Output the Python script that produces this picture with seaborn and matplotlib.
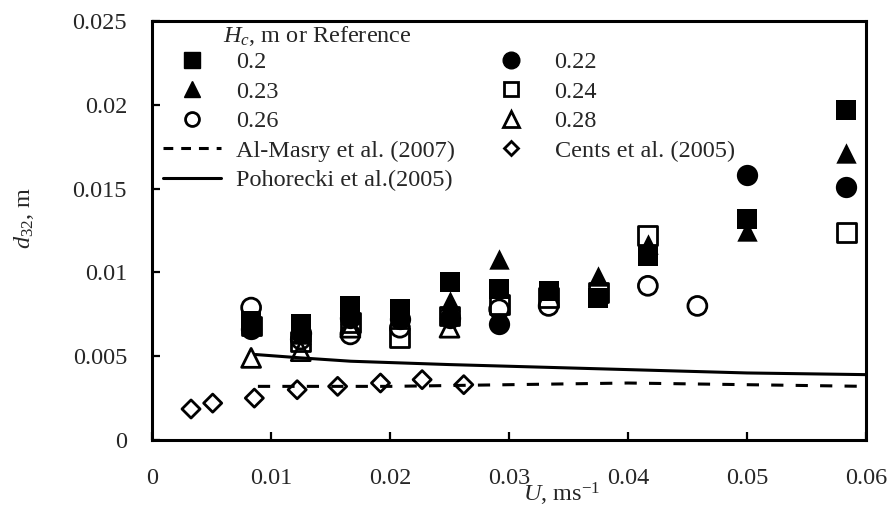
import matplotlib
matplotlib.use("Agg")
import matplotlib.pyplot as plt
import seaborn as sns
from matplotlib.lines import Line2D
from matplotlib.ticker import FuncFormatter, MultipleLocator

# ---- data ----
U_02 = [0.00833, 0.0125, 0.01667, 0.02083, 0.025, 0.02917, 0.03333, 0.0375, 0.04167, 0.05, 0.05833]
d_02 = [0.0071, 0.0069, 0.0080, 0.0078, 0.0094, 0.0090, 0.0089, 0.0085, 0.0110, 0.0132, 0.0197]
U_022 = [0.00833, 0.0125, 0.01667, 0.02083, 0.025, 0.02917, 0.05, 0.05833]
d_022 = [0.0066, 0.0064, 0.0073, 0.0072, 0.0073, 0.0069, 0.0158, 0.0151]
U_023 = [0.00833, 0.0125, 0.01667, 0.02083, 0.025, 0.02917, 0.0375, 0.04167, 0.05, 0.05833]
d_023 = [0.0070, 0.0063, 0.0075, 0.0074, 0.0083, 0.0108, 0.0098, 0.0117, 0.0125, 0.0171]
U_024 = [0.00833, 0.0125, 0.01667, 0.02083, 0.025, 0.02917, 0.03333, 0.0375, 0.04167, 0.05833]
d_024 = [0.0068, 0.0059, 0.0070, 0.0061, 0.0074, 0.0081, 0.0085, 0.0088, 0.0122, 0.0124]
U_026 = [0.00833, 0.0125, 0.01667, 0.02083, 0.02917, 0.03333, 0.04167, 0.04583]
d_026 = [0.0079, 0.0060, 0.0063, 0.0067, 0.0078, 0.0080, 0.0092, 0.0080]
U_028 = [0.00833, 0.0125, 0.01667, 0.025]
d_028 = [0.0049, 0.0053, 0.0067, 0.0067]

U_cents = [0.00328, 0.0051, 0.0086, 0.0122, 0.0156, 0.0192, 0.0227, 0.0262]
d_cents = [0.00185, 0.0022, 0.0025, 0.0030, 0.0032, 0.0034, 0.0036, 0.0033]

U_masry = [0.0089, 0.02, 0.03, 0.04, 0.05, 0.06]
d_masry = [0.0032, 0.0032, 0.0033, 0.0034, 0.0033, 0.0032]

U_poho = [0.0087, 0.0125, 0.0167, 0.025, 0.03, 0.04, 0.05, 0.06]
d_poho = [0.0051, 0.0049, 0.0047, 0.0045, 0.0044, 0.0042, 0.0040, 0.0039]

legend_labels = ["0.2", "0.23", "0.26", "Al-Masry et al. (2007)", "Pohorecki et al.(2005)",
                 "0.22", "0.24", "0.28", "Cents et al. (2005)"]

# ---- style ----
sns.set_style("ticks")
plt.rcParams["font.family"] = ["Liberation Serif", "DejaVu Serif"]
plt.rcParams["mathtext.fontset"] = "custom"
plt.rcParams["mathtext.rm"] = "Liberation Serif"
plt.rcParams["mathtext.it"] = "Liberation Serif:italic"
FS = 17.5
plt.rcParams["font.size"] = FS

fig = plt.figure(figsize=(8.94, 5.07), dpi=100)
ax = fig.add_axes([152 / 894, 67 / 507, 714 / 894, 419 / 507])

lw_line = 2.2
sns.lineplot(x=U_masry, y=d_masry, ax=ax, color="black", lw=lw_line,
             linestyle=(0, (4, 4)), zorder=2)
sns.lineplot(x=U_poho, y=d_poho, ax=ax, color="black", lw=lw_line, zorder=2)

S_FILL = 215
S_OPEN = 185
sns.scatterplot(x=U_02, y=d_02, ax=ax, marker="s", s=S_FILL, color="black", linewidth=0, zorder=3)
sns.scatterplot(x=U_022, y=d_022, ax=ax, marker="o", s=S_FILL + 20, color="black", linewidth=0, zorder=3)
sns.scatterplot(x=U_023, y=d_023, ax=ax, marker="^", s=S_FILL, color="black", linewidth=0, zorder=3)
sns.scatterplot(x=U_024, y=d_024, ax=ax, marker="s", s=S_OPEN, facecolor="none",
                edgecolor="black", linewidth=2.0, zorder=3)
sns.scatterplot(x=U_026, y=d_026, ax=ax, marker="o", s=S_OPEN, facecolor="none",
                edgecolor="black", linewidth=2.0, zorder=3)
sns.scatterplot(x=U_028, y=d_028, ax=ax, marker="^", s=S_OPEN, facecolor="none",
                edgecolor="black", linewidth=2.0, zorder=3)
sns.scatterplot(x=U_cents, y=d_cents, ax=ax, marker="D", s=85, facecolor="none",
                edgecolor="black", linewidth=2.0, zorder=3)

# ---- axes ----
ax.set_xlim(0, 0.06)
ax.set_ylim(0, 0.025)
ax.xaxis.set_major_locator(MultipleLocator(0.01))
ax.yaxis.set_major_locator(MultipleLocator(0.005))
fmt = FuncFormatter(lambda v, p: "0" if abs(v) < 1e-12 else f"{v:g}")
ax.xaxis.set_major_formatter(fmt)
ax.yaxis.set_major_formatter(fmt)
ax.tick_params(axis="both", direction="in", length=6, width=1.6, labelsize=FS, color="black")
ax.tick_params(axis="x", pad=20)
ax.tick_params(axis="y", pad=18)
for sp in ax.spines.values():
    sp.set_linewidth(2.2)
    sp.set_color("black")
    sp.set_visible(True)

ax.set_xlabel("$U$, ms$^{-1}$", fontsize=FS)
ax.xaxis.set_label_coords((562 - 152) / 714, (440 - 481) / 419)
ax.set_ylabel("$d_{32}$, m", fontsize=FS)
ax.yaxis.set_label_coords(-(152 - 36) / 714, (440 - 218) / 419)

# ---- legend ----
open_kw = dict(markerfacecolor="none", markeredgecolor="black", markeredgewidth=2.0)
ms = 11
handles = [
    Line2D([], [], ls="none", marker="s", ms=ms, color="black"),
    Line2D([], [], ls="none", marker="^", ms=ms + 1, color="black"),
    Line2D([], [], ls="none", marker="o", ms=ms - 1, **open_kw),
    Line2D([], [], color="black", lw=lw_line, linestyle=(0, (3.2, 2.6))),
    Line2D([], [], color="black", lw=lw_line),
    Line2D([], [], ls="none", marker="o", ms=ms + 1, color="black"),
    Line2D([], [], ls="none", marker="s", ms=ms - 1, **open_kw),
    Line2D([], [], ls="none", marker="^", ms=ms, **open_kw),
    Line2D([], [], ls="none", marker="D", ms=ms - 3.5, **open_kw),
]
ax.legend(handles=handles, labels=legend_labels, ncol=2, loc="upper left",
          bbox_to_anchor=((163 - 152) / 714, (440 - 51) / 419), frameon=False,
          fontsize=FS, handlelength=2.4, handletextpad=0.6, columnspacing=1.1,
          labelspacing=0.31, borderpad=0, borderaxespad=0)
ax.text((223 - 152) / 714, (440 - 36) / 419, "$H_c$, m or Reference",
        transform=ax.transAxes, ha="left", va="center", fontsize=FS)

fig.savefig("out.png", dpi=100)
